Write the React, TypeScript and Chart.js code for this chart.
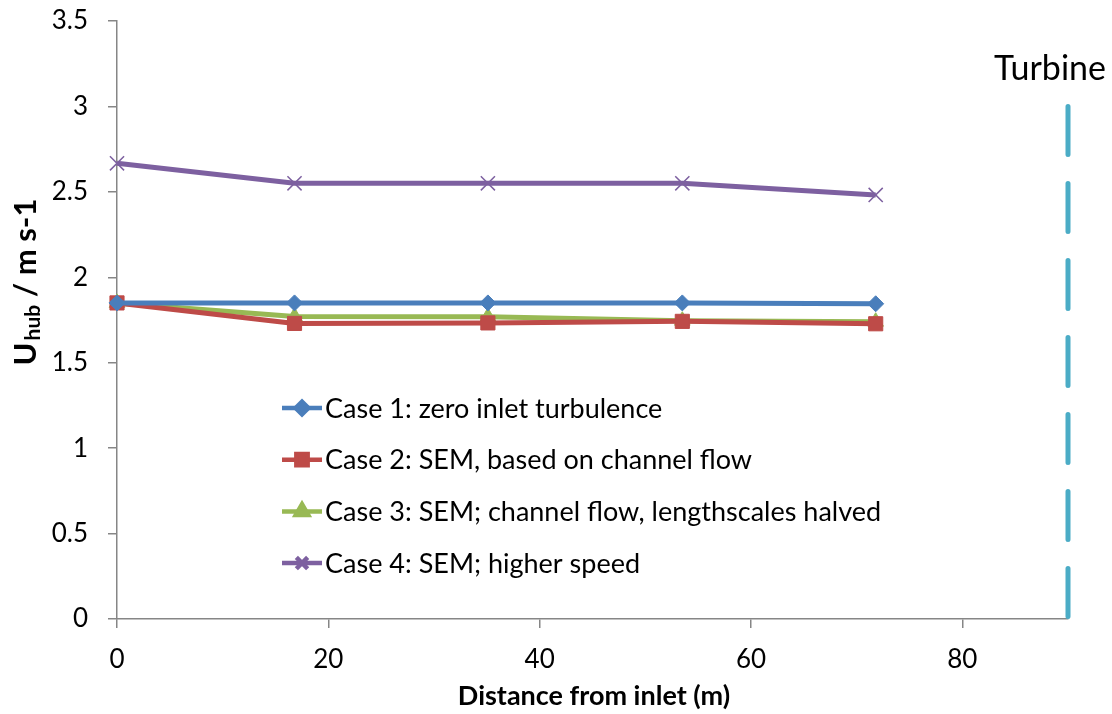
import React, { useEffect, useRef } from "react";
import { Chart, registerables } from "chart.js";
import { drawPoint } from "chart.js/helpers";

Chart.register(...registerables);

const distances = [0, 16.8, 35.1, 53.5, 71.8];
const case1 = [1.85, 1.85, 1.85, 1.85, 1.845];
const case2 = [1.85, 1.73, 1.733, 1.742, 1.728];
const case3 = [1.85, 1.77, 1.769, 1.746, 1.74];
const case4 = [2.667, 2.55, 2.55, 2.55, 2.482];
const seriesLabels = [
  "Case 1: zero inlet turbulence",
  "Case 2: SEM, based on channel flow",
  "Case 3: SEM; channel flow, lengthscales halved",
  "Case 4: SEM; higher speed",
];
const turbineX = [90, 90];
const turbineY = [3, 0];
const turbineLabel = "Turbine";
const xTitle = "Distance from inlet (m)";
const xTicks = [0, 20, 40, 60, 80];

const FONT = "Lato, 'Open Sans', sans-serif";

const toPts = (xs: number[], ys: number[]) => xs.map((x, i) => ({ x, y: ys[i] }));

const customDraw = {
  id: "customDraw",
  afterDraw(chart: any) {
    const ctx = chart.ctx as CanvasRenderingContext2D;
    const area = chart.chartArea;
    ctx.save();
    // Legend inside the plot
    const lx = area.left + 165;
    const ly0 = area.top + 387;
    const step = 51.7;
    chart.data.datasets.forEach((ds: any, i: number) => {
      if (ds.hideLegend) return;
      const y = ly0 + i * step;
      ctx.strokeStyle = ds.borderColor;
      ctx.lineWidth = 4.5;
      ctx.lineCap = "butt";
      ctx.beginPath();
      ctx.moveTo(lx, y);
      ctx.lineTo(lx + 40, y);
      ctx.stroke();
      ctx.fillStyle = ds.pointBackgroundColor;
      ctx.strokeStyle = ds.pointBorderColor;
      drawPoint(ctx, {
        pointStyle: ds.pointStyle,
        radius: ds.pointRadius * 0.8,
        rotation: 0,
        borderWidth: ds.pointBorderWidth,
      } as any, lx + 20, y);
      ctx.fillStyle = "#000";
      ctx.font = `27px ${FONT}`;
      ctx.textAlign = "left";
      ctx.textBaseline = "middle";
      ctx.fillText(ds.label, lx + 43, y + 1);
    });
    // Turbine label
    const xs = chart.scales.x;
    ctx.fillStyle = "#000";
    ctx.font = `34px ${FONT}`;
    ctx.textAlign = "center";
    ctx.textBaseline = "alphabetic";
    ctx.fillText(turbineLabel, xs.getPixelForValue(turbineX[0]) - 18, 80);
    // X title
    ctx.font = `bold 27px ${FONT}`;
    ctx.fillText(xTitle, 594, 705);
    // Y title with subscript
    ctx.translate(26, 282);
    ctx.rotate(-Math.PI / 2);
    const p1 = "U";
    const p2 = "hub";
    const p3 = " / m s-1";
    ctx.font = `bold 31px ${FONT}`;
    const w1 = ctx.measureText(p1).width;
    const w3 = ctx.measureText(p3).width;
    ctx.font = `bold 21px ${FONT}`;
    const w2 = ctx.measureText(p2).width;
    const total = w1 + w2 + w3 + 2;
    let cx = -total / 2;
    ctx.textAlign = "left";
    ctx.textBaseline = "middle";
    ctx.font = `bold 31px ${FONT}`;
    ctx.fillText(p1, cx, 0);
    cx += w1 + 2;
    ctx.font = `bold 21px ${FONT}`;
    ctx.fillText(p2, cx, 7);
    cx += w2;
    ctx.font = `bold 31px ${FONT}`;
    ctx.fillText(p3, cx, 0);
    ctx.restore();
  },
};

export default function App() {
  const ref = useRef<HTMLCanvasElement | null>(null);
  useEffect(() => {
    document.body.style.margin = "0";
    const mk = (label: string, ys: number[], line: string, fill: string, style: string, r: number, bw: number) => ({
      label,
      data: toPts(distances, ys),
      borderColor: line,
      backgroundColor: fill,
      borderWidth: 5,
      pointStyle: style,
      pointRadius: r,
      pointBackgroundColor: fill,
      pointBorderColor: style === "crossRot" ? line : fill,
      pointBorderWidth: bw,
      clip: false,
    });
    const chart = new Chart(ref.current as HTMLCanvasElement, {
      type: "line",
      data: {
        datasets: [
          mk(seriesLabels[0], case1, "#4A7EBB", "#4A7EBB", "rectRot", 8, 1),
          mk(seriesLabels[1], case2, "#BE4B48", "#BE4B48", "rect", 10, 1),
          mk(seriesLabels[2], case3, "#98B954", "#98B954", "triangle", 9, 1),
          mk(seriesLabels[3], case4, "#7D60A0", "#7D60A0", "crossRot", 10, 1.5),
          {
            label: turbineLabel,
            hideLegend: true,
            data: toPts(turbineX, turbineY),
            borderColor: "#4BACC6",
            borderWidth: 5,
            borderDash: [48, 29],
            borderCapStyle: "round",
            pointRadius: 0,
            clip: false,
          } as any,
        ],
      },
      options: {
        animation: false,
        responsive: false,
        layout: { padding: { top: 21, right: 44, left: 0, bottom: 0 } },
        plugins: { legend: { display: false }, tooltip: { enabled: false } },
        scales: {
          x: {
            type: "linear",
            min: 0,
            max: 90,
            afterBuildTicks: (s: any) => {
              s.ticks = xTicks.map((v) => ({ value: v }));
            },
            afterFit: (s: any) => {
              s.height = 95;
              s.paddingLeft = 0;
              s.paddingRight = 0;
            },
            grid: { drawOnChartArea: false, drawTicks: true, tickLength: 9, color: "#868686", lineWidth: 1.5 },
            border: { color: "#868686", width: 1.5 },
            ticks: { color: "#000", font: { family: FONT, size: 26 }, padding: 16, maxRotation: 0 },
          },
          y: {
            type: "linear",
            min: 0,
            max: 3.5,
            ticks: {
              stepSize: 0.5,
              color: "#000",
              font: { family: FONT, size: 26 },
              padding: 20,
              callback: (v: any) => String(Number(v)),
            },
            afterFit: (s: any) => {
              s.width = 117;
              s.paddingTop = 0;
              s.paddingBottom = 0;
            },
            grid: { drawOnChartArea: false, drawTicks: true, tickLength: 9, color: "#868686", lineWidth: 1.5 },
            border: { color: "#868686", width: 1.5 },
          },
        },
      },
      plugins: [customDraw],
    } as any);
    return () => chart.destroy();
  }, []);
  return <canvas ref={ref} width={1112} height={714} style={{ display: "block" }} />;
}
